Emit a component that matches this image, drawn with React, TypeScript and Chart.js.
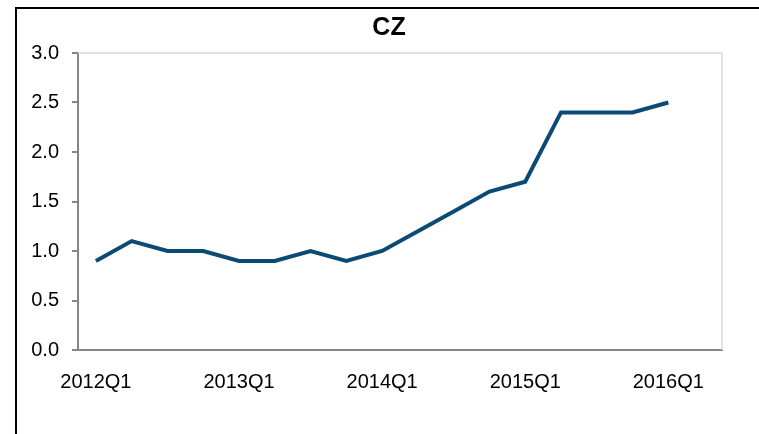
import React, { useEffect, useRef } from "react";
import { Chart, registerables } from "chart.js";

Chart.register(...registerables);

const title = "CZ";
const quarters = [
  "2012Q1", "2012Q2", "2012Q3", "2012Q4",
  "2013Q1", "2013Q2", "2013Q3", "2013Q4",
  "2014Q1", "2014Q2", "2014Q3", "2014Q4",
  "2015Q1", "2015Q2", "2015Q3", "2015Q4",
  "2016Q1", "2016Q2",
];
const values: (number | null)[] = [
  0.9, 1.1, 1.0, 1.0,
  0.9, 0.9, 1.0, 0.9,
  1.0, 1.2, 1.4, 1.6,
  1.7, 2.4, 2.4, 2.4,
  2.5, null,
];
const yMin = 0;
const yMax = 3;
const yStep = 0.5;

const FONT = "'Liberation Sans', Arial, Helvetica, sans-serif";

const frameLines = {
  id: "frameLines",
  afterDatasetsDraw(chart: any) {
    const { ctx, chartArea } = chart;
    ctx.save();
    ctx.strokeStyle = "#d9d9d9";
    ctx.lineWidth = 1.5;
    ctx.beginPath();
    ctx.moveTo(chartArea.left, chartArea.top);
    ctx.lineTo(chartArea.right, chartArea.top);
    ctx.lineTo(chartArea.right, chartArea.bottom);
    ctx.stroke();
    ctx.restore();
  },
};

export default function App() {
  const ref = useRef<HTMLCanvasElement | null>(null);

  useEffect(() => {
    if (!ref.current) return;
    const chart = new Chart(ref.current, {
      type: "line",
      data: {
        labels: quarters,
        datasets: [
          {
            data: values,
            borderColor: "#0b4a74",
            backgroundColor: "#0b4a74",
            borderWidth: 4,
            pointRadius: 0,
            tension: 0,
            spanGaps: false,
            yAxisID: "y",
          },
        ],
      },
      options: {
        animation: false,
        responsive: false,
        maintainAspectRatio: false,
        layout: { padding: { left: 19, right: 0, top: 0, bottom: 0 } },
        plugins: {
          legend: { display: false },
          tooltip: { enabled: false },
          title: {
            display: true,
            text: title,
            color: "#000",
            font: { family: FONT, size: 25, weight: "bold" },
            padding: { top: 13, bottom: 10 },
          },
        },
        scales: {
          x: {
            type: "category",
            offset: true,
            grid: { display: false, drawTicks: false },
            border: { display: true, color: "#868686", width: 2 },
            ticks: {
              autoSkip: false,
              maxRotation: 0,
              minRotation: 0,
              padding: 20,
              color: "#000",
              font: { family: FONT, size: 20 },
              callback: (_v: any, i: number) => (i % 4 === 0 ? quarters[i] : ""),
            },
            afterFit: (s: any) => {
              s.height = 84;
            },
          },
          y: {
            min: yMin,
            max: yMax,
            grid: {
              drawOnChartArea: false,
              drawTicks: true,
              tickLength: 6,
              tickColor: "#868686",
              lineWidth: 2,
            },
            border: { display: true, color: "#868686", width: 2 },
            ticks: {
              stepSize: yStep,
              padding: 13,
              color: "#000",
              font: { family: FONT, size: 20 },
              callback: (v: any) => Number(v).toFixed(1),
            },
            afterFit: (s: any) => {
              s.width = 59;
            },
          },
          spacer: {
            type: "linear",
            position: "right",
            display: true,
            min: 0,
            max: 1,
            grid: { display: false, drawTicks: false },
            border: { display: false },
            ticks: { display: false },
            afterFit: (s: any) => {
              s.width = 37;
            },
          },
        },
      },
      plugins: [frameLines],
    });
    return () => chart.destroy();
  }, []);

  return (
    <div
      style={{
        position: "fixed",
        left: 0,
        top: 0,
        width: 759,
        height: 434,
        overflow: "hidden",
        background: "#fff",
      }}
    >
      <div
        style={{
          position: "absolute",
          left: 15,
          top: 7,
          width: 800,
          height: 500,
          border: "2px solid #000",
          boxSizing: "border-box",
        }}
      />
      <canvas
        ref={ref}
        width={759}
        height={434}
        style={{ position: "absolute", left: 0, top: 0, width: 759, height: 434 }}
      />
    </div>
  );
}
